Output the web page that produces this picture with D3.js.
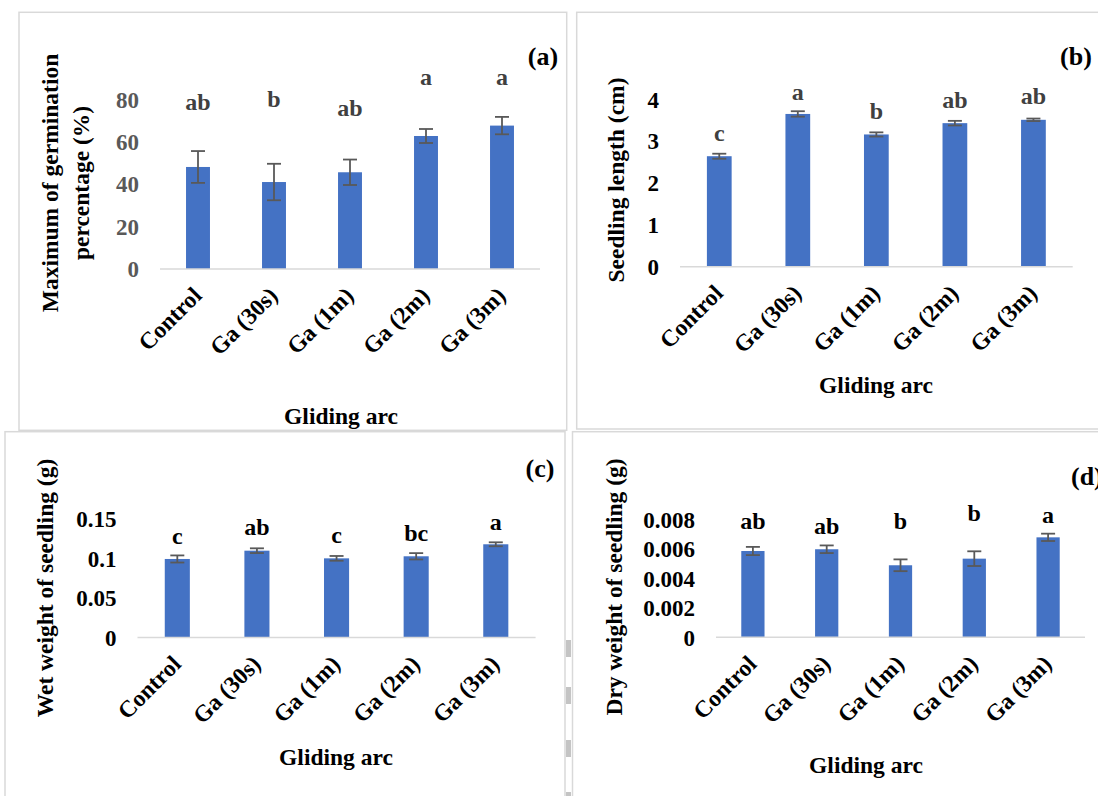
<!DOCTYPE html>
<html>
  <head>
    <meta charset="UTF-8" />
    <style>
      body {
        margin: 0;
        background: #fff;
      }
    </style>
  </head>
  <body>
    <svg></svg>

    <script src="https://d3js.org/d3.v7.min.js"></script>

    <script>
      let width = 1098,
        height = 796;
      const serif = '"Liberation Serif", "Times New Roman", serif';

      // shared categories
      const categories = ["Control", "Ga (30s)", "Ga (1m)", "Ga (2m)", "Ga (3m)"];

      // (a) maximum germination percentage
      const germValues = [48.1, 41.0, 45.6, 62.7, 67.6];
      const germErrors = [7.5, 8.6, 6.0, 3.3, 4.1];
      const germLetters = ["ab", "b", "ab", "a", "a"];
      const germLetterAt = [78.9, 80.1, 76.2, 90.4, 90.7];
      const germTicks = [0, 20, 40, 60, 80];

      // (b) seedling length
      const lengthValues = [2.64, 3.65, 3.16, 3.43, 3.51];
      const lengthErrors = [0.06, 0.065, 0.05, 0.055, 0.03];
      const lengthLetters = ["c", "a", "b", "ab", "ab"];
      const lengthLetterAt = [3.19, 4.17, 3.73, 3.98, 4.08];
      const lengthTicks = [0, 1, 2, 3, 4];

      // (c) wet weight
      const wetValues = [0.0994, 0.1099, 0.1002, 0.1028, 0.118];
      const wetErrors = [0.0045, 0.003, 0.003, 0.004, 0.0025];
      const wetLetters = ["c", "ab", "c", "bc", "a"];
      const wetLetterAt = [0.1289, 0.1395, 0.1297, 0.133, 0.1466];
      const wetTicks = [0, 0.05, 0.1, 0.15];

      // (d) dry weight
      const dryValues = [0.00587, 0.00599, 0.0049, 0.00535, 0.0068];
      const dryErrors = [0.00028, 0.00026, 0.0004, 0.0005, 0.00025];
      const dryLetters = ["ab", "ab", "b", "b", "a"];
      const dryLetterAt = [0.00793, 0.00759, 0.00793, 0.00848, 0.00832];
      const dryTicks = [0, 0.002, 0.004, 0.006, 0.008];

      let svg = d3
        .select("svg")
        .attr("width", width)
        .attr("height", height)
        .attr("viewBox", "0 0 " + width + " " + height);

      // panel frames
      const frameColor = "#d9d9d9";
      const frames = [
        [19, 12.3, 547.7, 418],
        [576.7, 12.3, 600, 416.7],
        [5, 431.7, 560, 500],
        [572.5, 431.7, 600, 500],
      ];
      svg
        .append("g")
        .selectAll("rect")
        .data(frames)
        .enter()
        .append("rect")
        .attr("x", (d) => d[0])
        .attr("y", (d) => d[1])
        .attr("width", (d) => d[2])
        .attr("height", (d) => d[3])
        .attr("fill", "none")
        .attr("stroke", frameColor)
        .attr("stroke-width", 1.5);

      // little grey marks between the lower frames
      svg
        .append("g")
        .selectAll("rect")
        .data([640, 687, 740, 792])
        .enter()
        .append("rect")
        .attr("x", 566)
        .attr("y", (d) => d)
        .attr("width", 5)
        .attr("height", 17)
        .attr("fill", "#c4c4c4");

      const panels = [
        {
          values: germValues,
          errors: germErrors,
          letters: germLetters,
          letterAt: germLetterAt,
          ticks: germTicks,
          max: 80,
          x: [160, 540],
          y: [269, 99.3],
          tickColor: "#595959",
          letterColor: "#404040",
          title: ["Maximum of germination", "percentage (%)"],
          titleX: [50, 81],
          titleY: 183,
          tag: "(a)",
          tagPos: [543, 56],
          xTitlePos: [341, 416],
          tickFormat: d3.format("d"),
        },
        {
          values: lengthValues,
          errors: lengthErrors,
          letters: lengthLetters,
          letterAt: lengthLetterAt,
          ticks: lengthTicks,
          max: 4,
          x: [680, 1072.7],
          y: [266.7, 99.3],
          tickColor: "#000",
          letterColor: "#404040",
          title: ["Seedling length (cm)"],
          titleX: [616],
          titleY: 180,
          tag: "(b)",
          tagPos: [1076, 56],
          xTitlePos: [876, 385],
          tickFormat: d3.format("d"),
        },
        {
          values: wetValues,
          errors: wetErrors,
          letters: wetLetters,
          letterAt: wetLetterAt,
          ticks: wetTicks,
          max: 0.15,
          x: [137.5, 535.6],
          y: [637.5, 519],
          tickColor: "#000",
          letterColor: "#000",
          title: ["Wet weight of seedling (g)"],
          titleX: [45],
          titleY: 588,
          tag: "(c)",
          tagPos: [540, 468],
          xTitlePos: [336, 757],
          tickFormat: (d) => (d === 0 ? "0" : String(d)),
        },
        {
          values: dryValues,
          errors: dryErrors,
          letters: dryLetters,
          letterAt: dryLetterAt,
          ticks: dryTicks,
          max: 0.008,
          x: [716, 1085],
          y: [637.3, 519.7],
          tickColor: "#000",
          letterColor: "#000",
          title: ["Dry weight of seedling (g)"],
          titleX: [614],
          titleY: 587,
          tag: "(d)",
          tagPos: [1071, 476],
          tagAnchor: "start",
          xTitlePos: [866, 765],
          tickFormat: (d) => (d === 0 ? "0" : d3.format(".3f")(d)),
        },
      ];

      panels.forEach(function (p) {
        let g = svg.append("g");

        let x = d3
          .scaleBand()
          .domain(categories)
          .range(p.x)
          .paddingInner(0.685)
          .paddingOuter(0.3425);

        let y = d3.scaleLinear().domain([0, p.max]).range(p.y);

        // y tick labels
        let yAxis = g
          .append("g")
          .attr("transform", "translate(" + p.x[0] + ",0)")
          .call(
            d3
              .axisLeft(y)
              .tickValues(p.ticks)
              .tickFormat(p.tickFormat)
              .tickSize(0)
              .tickPadding(21)
          );
        yAxis.select(".domain").remove();
        yAxis
          .selectAll("text")
          .attr("font-size", 23)
          .attr("font-weight", "bold")
          .attr("fill", p.tickColor)
          .attr("dy", "0.34em")
          .style("font-family", serif);

        // bars
        g.append("g")
          .selectAll("rect")
          .data(p.values)
          .enter()
          .append("rect")
          .attr("x", (d, i) => x(categories[i]))
          .attr("y", (d) => y(d))
          .attr("width", x.bandwidth())
          .attr("height", (d) => y(0) - y(d))
          .attr("fill", "#4472c4");

        // baseline
        g.append("line")
          .attr("x1", p.x[0])
          .attr("x2", p.x[1])
          .attr("y1", y(0))
          .attr("y2", y(0))
          .attr("stroke", "#d9d9d9")
          .attr("stroke-width", 1.6);

        // error bars
        let err = g
          .append("g")
          .attr("stroke", "#595959")
          .attr("stroke-width", 1.8)
          .selectAll("g")
          .data(p.values)
          .enter()
          .append("g");
        let cx = (i) => x(categories[i]) + x.bandwidth() / 2;
        err
          .append("line")
          .attr("x1", (d, i) => cx(i))
          .attr("x2", (d, i) => cx(i))
          .attr("y1", (d, i) => y(d + p.errors[i]))
          .attr("y2", (d, i) => y(d - p.errors[i]));
        [1, -1].forEach(function (s) {
          err
            .append("line")
            .attr("x1", (d, i) => cx(i) - 7)
            .attr("x2", (d, i) => cx(i) + 7)
            .attr("y1", (d, i) => y(d + s * p.errors[i]))
            .attr("y2", (d, i) => y(d + s * p.errors[i]));
        });

        // significance letters
        g.append("g")
          .selectAll("text")
          .data(p.letters)
          .enter()
          .append("text")
          .attr("x", (d, i) => cx(i))
          .attr("y", (d, i) => y(p.letterAt[i]))
          .attr("dy", "0.34em")
          .attr("text-anchor", "middle")
          .attr("font-size", 24)
          .attr("font-weight", "bold")
          .style("font-family", serif)
          .attr("fill", p.letterColor)
          .text((d) => d);

        // category labels, rotated
        g.append("g")
          .selectAll("text")
          .data(categories)
          .enter()
          .append("text")
          .attr(
            "transform",
            (d, i) =>
              "translate(" + (cx(i) + 5) + "," + (y(0) + 28) + ") rotate(-45)"
          )
          .attr("text-anchor", "end")
          .attr("font-size", 23.5)
          .attr("font-weight", "bold")
          .style("font-family", serif)
          .attr("fill", "#000")
          .text((d) => d);

        // y title
        p.title.forEach(function (t, k) {
          g.append("text")
            .attr(
              "transform",
              "translate(" + p.titleX[k] + "," + p.titleY + ") rotate(-90)"
            )
            .attr("text-anchor", "middle")
            .attr("dy", "0.34em")
            .attr("font-size", 23.5)
            .attr("font-weight", "bold")
            .style("font-family", serif)
            .attr("fill", "#000")
            .text(t);
        });

        // x title
        g.append("text")
          .attr("x", p.xTitlePos[0])
          .attr("y", p.xTitlePos[1])
          .attr("dy", "0.34em")
          .attr("text-anchor", "middle")
          .attr("font-size", 23.5)
          .attr("font-weight", "bold")
          .style("font-family", serif)
          .attr("fill", "#000")
          .text("Gliding arc");

        // panel tag
        g.append("text")
          .attr("x", p.tagPos[0])
          .attr("y", p.tagPos[1])
          .attr("dy", "0.34em")
          .attr("text-anchor", p.tagAnchor || "middle")
          .attr("font-size", 26)
          .attr("font-weight", "bold")
          .style("font-family", serif)
          .attr("fill", "#000")
          .text(p.tag);
      });
    </script>
  </body>
</html>
